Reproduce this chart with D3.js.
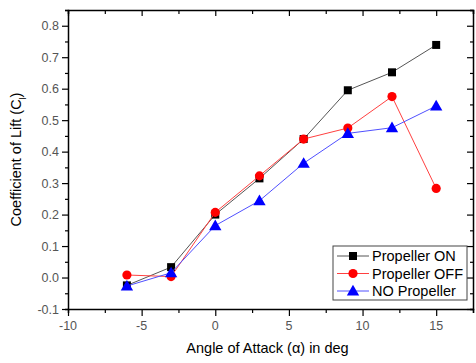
<!DOCTYPE html>
<html>
<head>
<meta charset="utf-8">
<script src="https://cdn.jsdelivr.net/npm/d3@7"></script>
<style>
  body { margin: 0; background: #fff; }
  text { font-family: Arial, "Liberation Sans", sans-serif; }
</style>
</head>
<body>
<div class="chart"></div>
<script>
var angles = [-6, -3, 0, 3, 6, 9, 12, 15];
var propOn = [-0.025, 0.033, 0.2, 0.315, 0.44, 0.595, 0.652, 0.739];
var propOff = [0.008, 0.003, 0.207, 0.323, 0.44, 0.475, 0.575, 0.283];
var noProp = [-0.027, 0.015, 0.165, 0.244, 0.363, 0.458, 0.476, 0.545];
var xTicks = [-10, -5, 0, 5, 10, 15];
var yTicks = [-0.1, 0.0, 0.1, 0.2, 0.3, 0.4, 0.5, 0.6, 0.7, 0.8];

var series = [
  { name: 'Propeller ON', values: propOn, color: '#000000', stroke: '#555', symbol: d3.symbolSquare, size: 64 },
  { name: 'Propeller OFF', values: propOff, color: '#ff0000', stroke: '#ff4040', symbol: d3.symbolCircle, size: 66 },
  { name: 'NO Propeller', values: noProp, color: '#0000ff', stroke: '#5050ff', symbol: d3.symbolTriangle, size: 66 }
];

var margin = { top: 10, right: 3, bottom: 54, left: 68 };
var width = 476 - margin.left - margin.right;
var height = 363 - margin.top - margin.bottom;

var svg = d3.select('.chart')
  .append('svg')
  .attr('width', 476)
  .attr('height', 363)
  .append('g')
  .attr('transform', `translate(${margin.left}, ${margin.top})`);

var xScale = d3.scaleLinear().domain([-10, 17.5]).range([0, width]);
var yScale = d3.scaleLinear().domain([-0.1, 0.85]).range([height, 0]);

var xMinor = d3.range(-10, 17.6, 2.5);
var yMinor = d3.range(-0.1, 0.851, 0.05);

// bottom axis (ticks outward)
var bottomAxis = svg.append('g').attr('transform', `translate(0, ${height})`);
bottomAxis.call(d3.axisBottom(xScale).tickValues(xMinor).tickSize(4).tickFormat(''));
bottomAxis.selectAll('.tick').filter(d => xTicks.indexOf(d) >= 0).select('line').attr('y2', 7);
bottomAxis.append('g').selectAll('text')
  .data(xTicks).enter().append('text')
  .attr('x', d => xScale(d)).attr('y', 21)
  .attr('text-anchor', 'middle').attr('fill', '#555').style('font-size', '12.5px')
  .text(d => d);

// left axis (ticks outward)
var leftAxis = svg.append('g');
leftAxis.call(d3.axisLeft(yScale).tickValues(yMinor).tickSize(3).tickFormat(''));
leftAxis.selectAll('.tick').filter((d, i) => i % 2 === 0).select('line').attr('x2', -6);
leftAxis.append('g').selectAll('text')
  .data(yTicks).enter().append('text')
  .attr('x', -9).attr('y', d => yScale(d) + 4.5)
  .attr('text-anchor', 'end').attr('fill', '#555').style('font-size', '12.5px')
  .text(d => d.toFixed(1));

// top and right axes (ticks inward)
var topAxis = svg.append('g');
topAxis.call(d3.axisTop(xScale).tickValues(xMinor).tickSize(-4).tickFormat(''));
topAxis.selectAll('.tick').filter(d => xTicks.indexOf(d) >= 0).select('line').attr('y2', 6);
var rightAxis = svg.append('g').attr('transform', `translate(${width}, 0)`);
rightAxis.call(d3.axisRight(yScale).tickValues(yMinor).tickSize(-3).tickFormat(''));
rightAxis.selectAll('.tick').filter((d, i) => i % 2 === 0).select('line').attr('x2', -6);

svg.selectAll('.domain').attr('stroke', '#000').attr('stroke-width', 1.5);
svg.selectAll('.tick line').attr('stroke', '#000').attr('stroke-width', 1.2);

var line = d3.line()
  .x((d, i) => xScale(angles[i]))
  .y(d => yScale(d));

series.forEach(s => {
  svg.append('path')
    .attr('d', line(s.values))
    .attr('fill', 'none')
    .attr('stroke', s.stroke)
    .attr('stroke-width', 1);
  svg.selectAll(null)
    .data(s.values).enter()
    .append('path')
    .attr('d', d3.symbol().type(s.symbol).size(s.size))
    .attr('transform', (d, i) => `translate(${xScale(angles[i])}, ${yScale(d) + (s.symbol === d3.symbolTriangle ? 1 : 0)})`)
    .attr('fill', s.color);
});

// legend
var lg = svg.append('g').attr('transform', `translate(${333 - margin.left}, ${246 - margin.top})`);
lg.append('rect')
  .attr('width', 134).attr('height', 54)
  .attr('fill', '#fff').attr('stroke', '#444').attr('stroke-width', 1);
series.forEach((s, i) => {
  var yy = 10 + i * 17.5;
  lg.append('line').attr('x1', 4).attr('x2', 36).attr('y1', yy).attr('y2', yy)
    .attr('stroke', s.stroke).attr('stroke-width', 1);
  lg.append('path')
    .attr('d', d3.symbol().type(s.symbol).size(s.size))
    .attr('transform', `translate(20, ${yy + (s.symbol === d3.symbolTriangle ? 1 : 0)})`)
    .attr('fill', s.color);
  lg.append('text').attr('x', 39).attr('y', yy + 5)
    .style('font-size', '14.5px').attr('fill', '#000')
    .text(s.name);
});

// axis titles
svg.append('text')
  .attr('x', width / 2 - 3).attr('y', height + 44)
  .attr('text-anchor', 'middle').style('font-size', '14.5px')
  .text('Angle of Attack (α) in deg');

var yt = svg.append('text')
  .attr('transform', `translate(-47, ${height / 2}) rotate(-90)`)
  .attr('text-anchor', 'middle').style('font-size', '14.5px');
yt.append('tspan').text('Coefficient of Lift (C');
yt.append('tspan').attr('baseline-shift', 'sub').style('font-size', '9px').text('l');
yt.append('tspan').text(')');
</script>
</body>
</html>
